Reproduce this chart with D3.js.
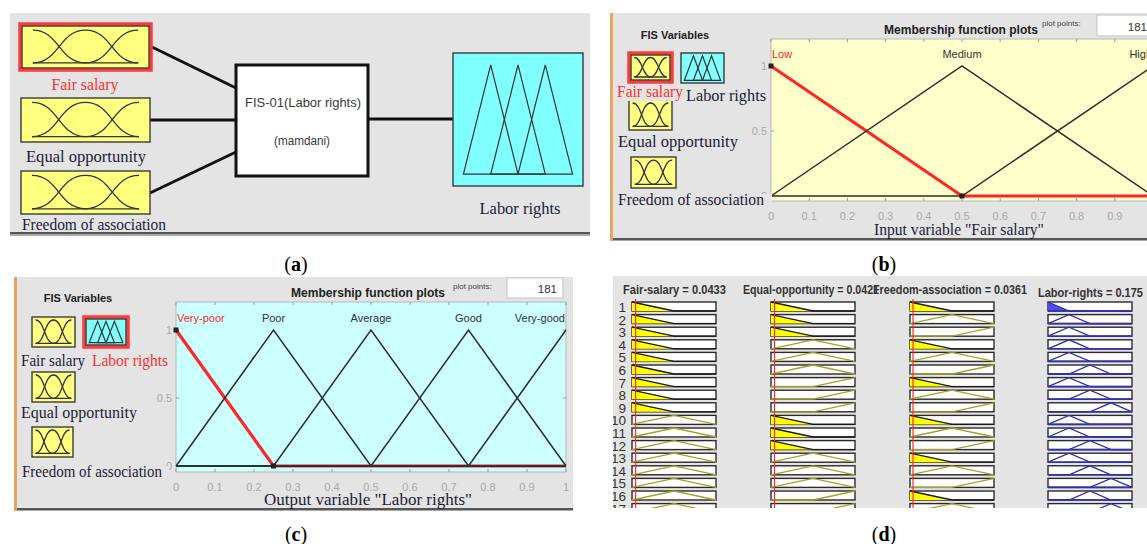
<!DOCTYPE html>
<html>
<head>
<meta charset="utf-8">
<script src="https://cdn.jsdelivr.net/npm/d3@7"></script>
<style>
  body { margin: 0; background: #fff; }
  svg { display: block; }
</style>
</head>
<body>
<svg id="fig" width="1147" height="544"></svg>
<script>
// ---- Fuzzy inference system "FIS-01 (Labor rights)" ----
const inputNames = ["Fair salary", "Equal opportunity", "Freedom of association"];
const outputName = "Labor rights";
const fisName = "FIS-01(Labor rights)";
const fisType = "(mamdani)";

// triangular membership functions [a, b, c]
const inputMFNames = ["Low", "Medium", "High"];
const inputMFParams = [[-0.5, 0, 0.5], [0, 0.5, 1], [0.5, 1, 1.5]];
const outputMFNames = ["Very-poor", "Poor", "Average", "Good", "Very-good"];
const outputMFParams = [[-0.25, 0, 0.25], [0, 0.25, 0.5], [0.25, 0.5, 0.75], [0.5, 0.75, 1], [0.75, 1, 1.25]];

const xTickValues = [0, 0.1, 0.2, 0.3, 0.4, 0.5, 0.6, 0.7, 0.8, 0.9, 1];
const yTickValues = [0, 0.5, 1];
const plotPoints = 181;

// ---- rule viewer ----
const ruleHeaders = ["Fair-salary", "Equal-opportunity", "Freedom-association", "Labor-rights"];
const crispInputs = [0.0433, 0.0421, 0.0361];
const crispOutput = 0.175;
// term index per rule (0 = Low, 1 = Medium, 2 = High)
const ruleFairSalary       = [0, 0, 0, 0, 0, 0, 0, 0, 0, 1, 1, 1, 1, 1, 1, 1, 1];
const ruleEqualOpportunity = [0, 0, 0, 1, 1, 1, 2, 2, 2, 0, 0, 0, 1, 1, 1, 2, 2];
const ruleFreedom          = [0, 1, 2, 0, 1, 2, 0, 1, 2, 0, 1, 2, 0, 1, 2, 0, 1];
// output term per rule (0 = Very-poor ... 4 = Very-good)
const ruleLaborRights      = [0, 1, 1, 1, 1, 2, 1, 2, 3, 1, 1, 2, 1, 2, 3, 2, 3];

const panelLabels = ["a", "b", "c", "d"];

// ---------------------------------------------------------------
const SANS = "'Liberation Sans', Arial, sans-serif";
const SERIF = "'Liberation Serif', 'Times New Roman', serif";
const INK = "#1c1c36";
const PANEL_BG = "#e4e4e4";
const RED = "#ff2626";
const svg = d3.select("#fig");
const fmtTick = d3.format("~g");

function trimf(x, p) {
  const [a, b, c] = p;
  const up = b === a ? (x >= b ? 1 : 0) : (x - a) / (b - a);
  const down = c === b ? (x <= b ? 1 : 0) : (c - x) / (c - b);
  return Math.max(Math.min(up, down), 0);
}
// breakpoints of a triangular term inside the universe [0, 1]
function mfPoints(p) {
  const xs = Array.from(new Set([0, ...p, 1].filter(x => x >= 0 && x <= 1))).sort((a, b) => a - b);
  return xs.map(x => [x, trimf(x, p)]);
}

function label(g, txt, x, y, opts = {}) {
  const t = g.append("text")
    .attr("x", x).attr("y", y)
    .attr("text-anchor", opts.anchor || "start")
    .attr("fill", opts.fill || INK)
    .style("font-family", opts.family || SERIF)
    .style("font-size", (opts.size || 16) + "px")
    .style("font-weight", opts.weight || "normal")
    .text(txt);
  if (opts.len) t.attr("textLength", opts.len).attr("lengthAdjust", "spacingAndGlyphs");
  return t;
}

// small icon of an input variable (three smooth terms)
function inputIcon(g, x, y, w, h, selected) {
  if (selected) {
    g.append("rect").attr("x", x - 2).attr("y", y - 2).attr("width", w + 4).attr("height", h + 4)
      .attr("fill", "none").attr("stroke", "#ff3a3a").attr("stroke-width", 3.5);
  }
  g.append("rect").attr("x", x).attr("y", y).attr("width", w).attr("height", h)
    .attr("fill", "#ffff80").attr("stroke", "#3a3a3a").attr("stroke-width", 1.4);
  const sx = d3.scaleLinear([0, 1], [x + w * 0.085, x + w * 0.915]);
  const sy = d3.scaleLinear([0, 1], [y + h * 0.88, y + h * 0.1]);
  const line = d3.line().x(d => sx(d[0])).y(d => sy(d[1])).curve(d3.curveBumpX);
  inputMFParams.forEach(p => {
    g.append("path").attr("d", line(mfPoints(p)))
      .attr("fill", "none").attr("stroke", "#333").attr("stroke-width", 1.3);
  });
}

// small icon of the output variable (interior triangular terms)
function outputIcon(g, x, y, w, h, selected) {
  if (selected) {
    g.append("rect").attr("x", x - 2).attr("y", y - 2).attr("width", w + 4).attr("height", h + 4)
      .attr("fill", "none").attr("stroke", "#ff3a3a").attr("stroke-width", 3.5);
  }
  g.append("rect").attr("x", x).attr("y", y).attr("width", w).attr("height", h)
    .attr("fill", "#80ffff").attr("stroke", "#3a3a3a").attr("stroke-width", 1.4);
  const sx = d3.scaleLinear([0, 1], [x + w * 0.08, x + w * 0.92]);
  const sy = d3.scaleLinear([0, 1], [y + h * 0.91, y + h * 0.09]);
  const line = d3.line().x(d => sx(d[0])).y(d => sy(d[1]));
  outputMFParams.slice(1, -1).forEach(p => {
    g.append("path").attr("d", line(p.map(v => [v, trimf(v, p)])) + "Z")
      .attr("fill", "none").attr("stroke", "#333").attr("stroke-width", 1.2);
  });
}

// ---------------- panel letters ----------------
const letterPos = [[296, 271], [884, 271], [296, 541], [884, 541]];
panelLabels.forEach((l, i) => {
  const t = svg.append("text").attr("x", letterPos[i][0]).attr("y", letterPos[i][1])
    .attr("text-anchor", "middle").attr("fill", "#000")
    .style("font-family", SERIF).style("font-size", "20px");
  t.append("tspan").text("(");
  t.append("tspan").style("font-weight", "bold").text(l);
  t.append("tspan").text(")");
});

// ---------------- (a) system diagram ----------------
{
  const g = svg.append("g");
  g.append("rect").attr("x", 10).attr("y", 13).attr("width", 580).attr("height", 220).attr("fill", PANEL_BG);
  g.append("rect").attr("x", 10).attr("y", 232).attr("width", 580).attr("height", 2.5).attr("fill", "#555");
  g.append("rect").attr("x", 10).attr("y", 234.5).attr("width", 580).attr("height", 1.5).attr("fill", "#aaa");

  const boxes = [[22, 26, 127, 42], [21, 98, 129, 44], [21, 171, 129, 43]];
  const ends = [[152, 47], [150, 120], [150, 193]];
  const fisIn = [[236, 88], [236, 120], [236, 152]];
  inputNames.forEach((n, i) => {
    g.append("line").attr("x1", ends[i][0]).attr("y1", ends[i][1]).attr("x2", fisIn[i][0]).attr("y2", fisIn[i][1])
      .attr("stroke", "#111").attr("stroke-width", 3);
  });
  g.append("line").attr("x1", 368).attr("y1", 119).attr("x2", 453).attr("y2", 119)
    .attr("stroke", "#111").attr("stroke-width", 3);

  inputNames.forEach((n, i) => inputIcon(g, ...boxes[i], i === 0));
  const labelPos = [[85, 90, 67], [86, 162, 120], [94, 230, 144]];
  inputNames.forEach((n, i) => label(g, n, labelPos[i][0], labelPos[i][1],
    { anchor: "middle", len: labelPos[i][2], fill: i === 0 ? "#ff3030" : INK }));

  g.append("rect").attr("x", 236).attr("y", 65).attr("width", 132).attr("height", 111)
    .attr("fill", "#fff").attr("stroke", "#111").attr("stroke-width", 3);
  label(g, fisName, 303, 107, { anchor: "middle", family: SANS, size: 12, fill: "#3a3a3a", len: 116 });
  label(g, fisType, 302, 145, { anchor: "middle", family: SANS, size: 12, fill: "#3a3a3a", len: 56 });

  outputIcon(g, 453, 53, 130, 133, false);
  label(g, outputName, 520, 214, { anchor: "middle", len: 81 });
}

// ---------------- membership function editor (b) and (c) ----------------
function mfEditor(cfg) {
  const g = svg.append("g");
  // window background
  g.append("rect").attr("x", cfg.win[0]).attr("y", cfg.win[1]).attr("width", cfg.win[2]).attr("height", cfg.win[3])
    .attr("fill", PANEL_BG);
  g.append("rect").attr("x", cfg.win[0] - 3).attr("y", cfg.win[1]).attr("width", 3).attr("height", cfg.win[3] + 3)
    .attr("fill", "#e3a65a");
  g.append("rect").attr("x", cfg.win[0]).attr("y", cfg.win[1] + cfg.win[3]).attr("width", cfg.win[2]).attr("height", 2.5)
    .attr("fill", "#555");

  label(g, "FIS Variables", cfg.fisVar[0], cfg.fisVar[1], { anchor: "middle", family: SANS, size: 11, weight: "bold", fill: "#222" });

  // variable icons
  cfg.icons.forEach((b, i) => {
    if (i === 3) outputIcon(g, ...b, cfg.sel === 3);
    else inputIcon(g, ...b, cfg.sel === i);
  });

  // plot area
  const [px, py, pw, ph] = cfg.plot;
  const sx = d3.scaleLinear([0, 1], [px, px + cfg.unit]);
  const sy = d3.scaleLinear([0, 1], [cfg.y0, cfg.y1]);
  g.append("rect").attr("x", px).attr("y", py).attr("width", pw).attr("height", ph)
    .attr("fill", cfg.bg).attr("stroke", "#b8b8b8").attr("stroke-width", 1);

  // tick marks on frame
  xTickValues.forEach(v => {
    g.append("line").attr("x1", sx(v)).attr("x2", sx(v)).attr("y1", py).attr("y2", py + 3).attr("stroke", "#999");
    g.append("line").attr("x1", sx(v)).attr("x2", sx(v)).attr("y1", py + ph).attr("y2", py + ph - 3).attr("stroke", "#999");
  });
  yTickValues.forEach(v => {
    g.append("line").attr("x1", px).attr("x2", px + 3).attr("y1", sy(v)).attr("y2", sy(v)).attr("stroke", "#999");
    g.append("line").attr("x1", px + pw).attr("x2", px + pw - 3).attr("y1", sy(v)).attr("y2", sy(v)).attr("stroke", "#999");
  });

  // tick labels
  yTickValues.forEach(v => label(g, fmtTick(v), px - 4, sy(v) + 4,
    { anchor: "end", family: SANS, size: 11, fill: "#a8a8a8" }));
  xTickValues.forEach(v => label(g, fmtTick(v), sx(v), py + ph + 19,
    { anchor: "middle", family: SANS, size: 11, fill: "#a8a8a8" }));

  // membership functions: selected term first, others over it
  const line = d3.line().x(d => sx(d[0])).y(d => sy(d[1]));
  const params = cfg.params, names = cfg.names;
  g.append("path").attr("d", line(mfPoints(params[0])))
    .attr("fill", "none").attr("stroke", RED).attr("stroke-width", 3.2);
  params.forEach((p, i) => {
    if (i === 0) return;
    g.append("path").attr("d", line(mfPoints(p)))
      .attr("fill", "none").attr("stroke", "#2e2e2e").attr("stroke-width", 1.5);
  });
  // vertex handles of the selected term
  mfPoints(params[0]).filter(d => d[0] <= params[0][2]).forEach(d => {
    g.append("rect").attr("x", sx(d[0]) - 2.5).attr("y", sy(d[1]) - 2.5).attr("width", 5).attr("height", 5)
      .attr("fill", "#222");
  });

  // term names
  names.forEach((n, i) => {
    const peak = params[i][1];
    const anchor = peak <= 0 ? "start" : peak >= 1 ? "end" : "middle";
    const x = peak <= 0 ? sx(0) + 1 : peak >= 1 ? sx(1) - 1 : sx(peak);
    label(g, n, x, sy(1) - 8.5, { anchor, family: SANS, size: 11, fill: i === 0 ? RED : "#333" });
  });

  // variable names, each on its own window-coloured field
  cfg.labels.forEach(([txt, x, y, len, red, pad]) => {
    const t = label(g, txt, x, y, { len, fill: red ? "#ff3030" : INK });
    const bb = t.node().getBBox();
    g.insert("rect", () => t.node()).attr("x", bb.x).attr("y", bb.y + 3)
      .attr("width", bb.width + (pad || 2)).attr("height", bb.height - 3)
      .attr("fill", PANEL_BG);
  });

  // header row
  label(g, "Membership function plots", cfg.title[0], cfg.title[1],
    { family: SANS, size: 12.5, weight: "bold", fill: "#222", len: 154 });
  label(g, "plot points:", cfg.pp[0], cfg.pp[1], { family: SANS, size: 8, fill: "#444" });
  const [bx, by, bw, bh] = cfg.ppBox;
  g.append("rect").attr("x", bx).attr("y", by).attr("width", bw).attr("height", bh)
    .attr("fill", "#fff").attr("stroke", "#c4c4c4");
  label(g, String(plotPoints), bx + bw - 6, by + bh - 5, { anchor: "end", family: SANS, size: 11.5, fill: "#333" });

  label(g, cfg.xlabel, sx(0.5) - 3, cfg.xlabelY, { anchor: "middle", len: cfg.xlabelLen });
}

mfEditor({
  win: [613, 13, 534, 225],
  fisVar: [675, 39],
  icons: [[631, 55, 39, 25], [629, 100, 43, 30], [631, 157, 45, 31], [681, 53, 43, 30]],
  sel: 0,
  plot: [771, 39, 382, 162],
  unit: 382, y0: 196, y1: 66,
  bg: "#ffffcc",
  params: inputMFParams, names: inputMFNames,
  labels: [["Fair salary", 617, 97, 66, true], ["Labor rights", 686, 101, 80, false],
           ["Equal opportunity", 618, 147, 120, false], ["Freedom of association", 618, 205, 146, false, 8]],
  title: [884, 34], pp: [1042, 26], ppBox: [1097, 15, 56, 21],
  xlabel: 'Input variable "Fair salary"', xlabelY: 235, xlabelLen: 170
});

mfEditor({
  win: [17, 277, 556, 231],
  fisVar: [78, 302],
  icons: [[32, 317, 43, 30], [32, 372, 43, 30], [32, 427, 41, 30], [86, 319, 40, 26]],
  sel: 3,
  plot: [176, 302, 390, 170],
  unit: 390, y0: 466, y1: 330,
  bg: "#ccffff",
  params: outputMFParams, names: outputMFNames,
  labels: [["Fair salary", 21, 366, 64, false], ["Labor rights", 92, 366, 76, true],
           ["Equal opportunity", 21, 418, 116, false], ["Freedom of association", 22, 477, 140, false, 7]],
  title: [291, 297], pp: [453, 289], ppBox: [507, 278, 56, 20],
  xlabel: 'Output variable "Labor rights"', xlabelY: 505, xlabelLen: 208
});

// ---------------- (d) rule viewer ----------------
{
  const g = svg.append("g");
  svg.append("defs").append("clipPath").attr("id", "ruleClip")
    .append("rect").attr("x", 613).attr("y", 276).attr("width", 534).attr("height", 232);
  g.attr("clip-path", "url(#ruleClip)");
  g.append("rect").attr("x", 613).attr("y", 276).attr("width", 534).attr("height", 232).attr("fill", PANEL_BG);

  const colX = [632, 771, 910, 1048];
  const colW = 84, rowH = 9;
  const rowY = d3.scaleLinear([0, 1], [302, 314.6]);
  const ruleTerms = [ruleFairSalary, ruleEqualOpportunity, ruleFreedom];

  // headers
  const headerVals = [crispInputs[0], crispInputs[1], crispInputs[2], crispOutput];
  const headerPos = [[623, 294, 103], [743, 294, 136], [873, 294, 154], [1038, 297, 105]];
  ruleHeaders.forEach((h, i) => label(g, `${h} = ${headerVals[i]}`, headerPos[i][0], headerPos[i][1],
    { family: SANS, size: 12, weight: "bold", fill: "#333", len: headerPos[i][2] }));

  ruleLaborRights.forEach((outTerm, r) => {
    const y = rowY(r);
    label(g, String(r + 1), 626, y + 10, { anchor: "end", family: SANS, size: 13.5, fill: "#333" });

    const strength = d3.min(ruleTerms.map((t, c) => trimf(crispInputs[c], inputMFParams[t[r]])));

    // input columns
    ruleTerms.forEach((terms, c) => {
      const sx = d3.scaleLinear([0, 1], [colX[c], colX[c] + colW]);
      const sy = d3.scaleLinear([0, 1], [y + rowH, y]);
      const line = d3.line().x(d => sx(d[0])).y(d => sy(d[1]));
      g.append("rect").attr("x", colX[c]).attr("y", y).attr("width", colW).attr("height", rowH)
        .attr("fill", "#fff").attr("stroke", "#2a2a2a").attr("stroke-width", 1.4);
      const p = inputMFParams[terms[r]];
      const pts = mfPoints(p);
      const active = trimf(crispInputs[c], p) >= 0.5;
      if (active) {
        g.append("path").attr("d", line([...pts, [1, 0], [0, 0]]) + "Z").attr("fill", "#ffff00").attr("stroke", "none");
      }
      g.append("path").attr("d", line(pts)).attr("fill", "none")
        .attr("stroke", active ? "#1a1a1a" : "#a3a32a").attr("stroke-width", 1.3);
    });

    // output column
    {
      const sx = d3.scaleLinear([0, 1], [colX[3], colX[3] + colW]);
      const sy = d3.scaleLinear([0, 1], [y + rowH, y]);
      const line = d3.line().x(d => sx(d[0])).y(d => sy(d[1]));
      g.append("rect").attr("x", colX[3]).attr("y", y).attr("width", colW).attr("height", rowH)
        .attr("fill", "#fff").attr("stroke", "#2a2a2a").attr("stroke-width", 1.4);
      const p = outputMFParams[outTerm];
      if (strength >= 0.5) {
        // implication: term clipped at the rule's firing strength
        const cut = p[0] + (p[1] - p[0]) * strength;
        const right = p[2] - (p[2] - p[1]) * strength;
        const clip = [[Math.max(cut, 0), strength], [Math.min(right, 1), strength], [p[2], 0], [Math.max(p[0], 0), 0]];
        g.append("path").attr("d", line(clip) + "Z").attr("fill", "#4d4df0").attr("stroke", "none");
      }
      g.append("path").attr("d", line(mfPoints(p))).attr("fill", "none")
        .attr("stroke", "#2f2fb0").attr("stroke-width", 1.3);
      g.append("line").attr("x1", sx(0)).attr("x2", sx(1)).attr("y1", y + rowH).attr("y2", y + rowH)
        .attr("stroke", "#2f2fb0").attr("stroke-width", 1.6);
    }
  });

  // crisp input lines
  crispInputs.forEach((v, c) => {
    const sx = d3.scaleLinear([0, 1], [colX[c], colX[c] + colW]);
    g.append("line").attr("x1", sx(v)).attr("x2", sx(v)).attr("y1", 299).attr("y2", 508)
      .attr("stroke", "#ff2a2a").attr("stroke-width", 1.2);
  });
}
</script>
</body>
</html>
